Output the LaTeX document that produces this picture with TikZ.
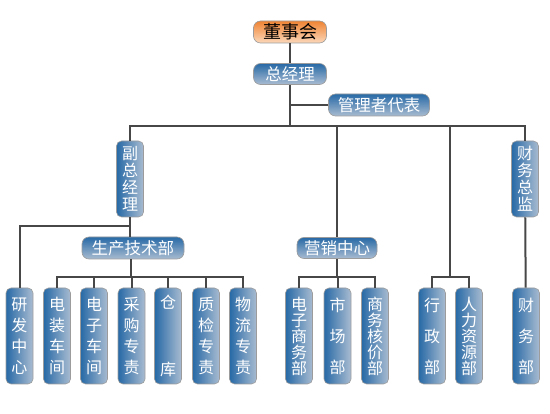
\documentclass[tikz,border=0pt]{standalone}
\usepackage{fontspec}
\setmainfont{Noto Sans CJK SC}
\usetikzlibrary{positioning, calc}
\definecolor{dkblue}{HTML}{2769A6}
\definecolor{ltblue}{HTML}{A9BCD1}
\definecolor{dsorange}{HTML}{EF8434}
\definecolor{ltorange}{HTML}{FCD8BA}
\definecolor{lngray}{HTML}{474747}
\definecolor{bdgray}{HTML}{9C9C9C}

\begin{document}
\begin{tikzpicture}[
  x=1pt, y=-1pt,
  conn/.style={lngray, line width=2pt},
  hbox/.style={rounded corners=7pt, draw=bdgray, line width=0.6pt, top color=dkblue, bottom color=ltblue, text=white, font=\fontsize{16.5}{16.5}\selectfont, minimum height=22pt, inner sep=0pt},
  vbox/.style={rounded corners=5pt, draw=bdgray, line width=0.6pt, left color=dkblue, right color=ltblue, text=white, align=center, minimum width=27pt, inner sep=0pt},
  sub/.style={vbox, minimum height=96pt},
  lines2/.style={font=\fontsize{16}{67}\selectfont},
  lines3/.style={font=\fontsize{16}{31}\selectfont},
  lines4/.style={font=\fontsize{16}{21}\selectfont},
  lines5/.style={font=\fontsize{16}{16}\selectfont},
]

% Page
\useasboundingbox (0,0) rectangle (550,414);

% Top level
\node[hbox, top color=dsorange, bottom color=ltorange, text=black, font=\fontsize{18}{18}\selectfont, minimum width=73pt] (dsh) at (290,32) {董事会};
\node[hbox, minimum width=73pt, minimum height=21pt] (zjl) at (290,74) {总经理};
\node[hbox, minimum width=101pt] (glz) at (379,105) {管理者代表};

% Second level
\node[vbox, minimum height=76pt, font=\fontsize{16}{17}\selectfont] (fzjl) at (130,179) {副\\总\\经\\理};
\node[vbox, minimum height=76pt, font=\fontsize{16}{17}\selectfont] (cwzj) at (525,179) {财\\务\\总\\监};

% Departments
\node[hbox, minimum width=102pt] (scjs) at (133,248) {生产技术部};
\node[hbox, minimum width=80pt, minimum height=21pt] (yxzx) at (337,248) {营销中心};

% Bottom row
\node[sub, lines4] (yf) at (19.5,336) {研\\发\\中\\心};
\node[sub, lines4] (dz) at (57,336) {电\\装\\车\\间};
\node[sub, lines4] (dzc) at (94,336) {电\\子\\车\\间};
\node[sub, lines4] (cg) at (131.5,336) {采\\购\\专\\责};
\node[sub, lines2] (ck) at (168,336) {仓\\库};
\node[sub, lines4] (zj) at (206,336) {质\\检\\专\\责};
\node[sub, lines4] (wl) at (243,336) {物\\流\\专\\责};
\node[sub, lines5] (dzsw) at (299,336) {电\\子\\商\\务\\部};
\node[sub, lines3] (sc) at (337.5,336) {市\\场\\部};
\node[sub, lines5] (swhj) at (375,336) {商\\务\\核\\价\\部};
\node[sub, lines3] (xz) at (432,336) {行\\政\\部};
\node[sub, lines5] (rl) at (469,336) {人\\力\\资\\源\\部};
\node[sub, lines3] (cw) at (526,336) {财\\务\\部};

% Trunk
\coordinate (bus) at (290,126);
\draw[conn] (dsh) -- (zjl);
\draw[conn] (zjl) -- (bus);
\draw[conn] (glz.west) -- (glz.west -| zjl.south);
\draw[conn] (fzjl.north) |- (bus) -| (cwzj.north);
\draw[conn] (bus -| yxzx.north) -- (yxzx.north);
\draw[conn] (cwzj) -- (cw);

% Production side
\coordinate (ybus) at (130,226);
\coordinate (pbus) at (131,277);
\draw[conn] (fzjl.south) -- (scjs.north -| fzjl.south);
\draw[conn] (yf.north) |- (ybus);
\draw[conn] (scjs.south -| pbus) -- (pbus);
\draw[conn] (dz.north) |- (pbus) -| (wl.north);
\foreach \n in {dzc, cg, ck, zj}
  \draw[conn] (\n.north) -- (\n.north |- pbus);

% Marketing side
\coordinate (mbus) at (337,277);
\draw[conn] (yxzx.south) -- (mbus);
\draw[conn] (dzsw.north) |- (mbus) -| (swhj.north);
\draw[conn] (sc.north) -- (sc.north |- mbus);

% Admin side
\coordinate (xbus) at (450,277);
\draw[conn] (bus -| xbus) -- (xbus);
\draw[conn] (xz.north) |- (xbus) -| (rl.north);

\end{tikzpicture}
\end{document}
